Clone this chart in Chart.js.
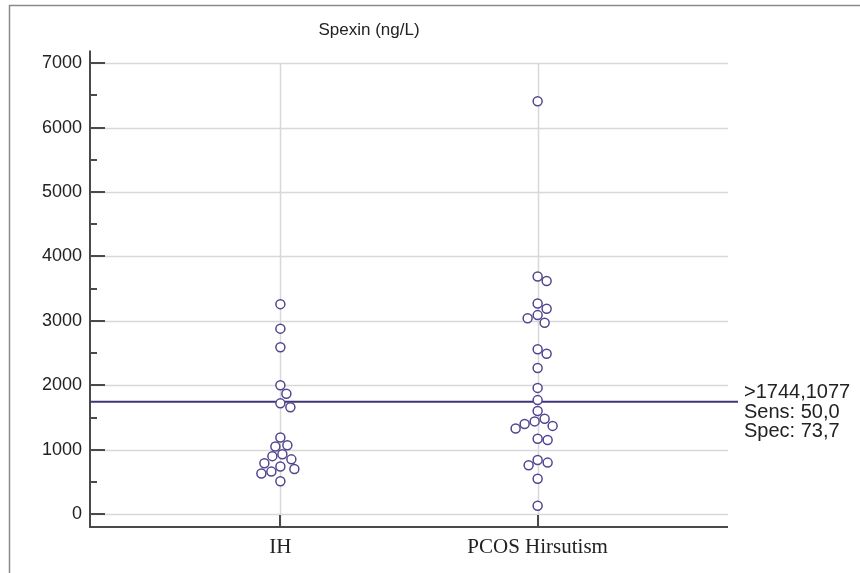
<!DOCTYPE html>
<html>
<head>
<meta charset="utf-8">
<script src="https://cdn.jsdelivr.net/npm/chart.js@4.4.1/dist/chart.umd.min.js"></script>
<style>
  html, body { margin: 0; padding: 0; background: #fff; }
</style>
</head>
<body>
<canvas id="chart" width="860" height="573"></canvas>
<script>
// данные
const categories = ["IH", "PCOS Hirsutism"];
const ihValues = [3260, 2880, 2590, 2000, 1870, 1720, 1660, 1190, 1070, 1050, 930, 900, 850, 790, 740, 700, 660, 630, 510];
const pcosValues = [6410, 3690, 3620, 3270, 3190, 3090, 3040, 2970, 2560, 2490, 2270, 1960, 1770, 1600, 1480, 1440, 1400, 1370, 1330, 1170, 1150, 840, 800, 760, 550, 130];
const cutoffValue = 1744.1077;
const cutoffLabels = [">1744,1077", "Sens: 50,0", "Spec: 73,7"];
const yTicks = [0, 1000, 2000, 3000, 4000, 5000, 6000, 7000];
const yMinorTicks = [500, 1500, 2500, 3500, 4500, 5500, 6500];

const pointColor = "#51478f";
const axisColor = "#4a4a4a";
const gridColor = "#d8d8d8";

// рамка, сетка, оси, линия отсечения
const decorPlugin = {
  id: "decor",
  beforeDraw(chart) {
    const c = chart.ctx;
    c.save();
    c.strokeStyle = "#8a8a8a";
    c.lineWidth = 1.5;
    c.beginPath();
    c.moveTo(9.5, 573);
    c.lineTo(9.5, 5.5);
    c.lineTo(860, 5.5);
    c.stroke();
    c.restore();
  },
  beforeDatasetsDraw(chart) {
    const c = chart.ctx;
    const a = chart.chartArea;
    const xs = chart.scales.x, ys = chart.scales.y;
    c.save();
    // горизонтальная сетка
    c.strokeStyle = gridColor;
    c.lineWidth = 1.5;
    yTicks.forEach((v) => {
      const y = Math.round(ys.getPixelForValue(v)) + 0.5;
      c.beginPath();
      c.moveTo(a.left, y);
      c.lineTo(a.right, y);
      c.stroke();
    });
    // вертикальные линии категорий
    const topY = ys.getPixelForValue(yTicks[yTicks.length - 1]);
    categories.forEach((_, i) => {
      const x = Math.round(xs.getPixelForValue(i + 1)) + 0.5;
      c.beginPath();
      c.moveTo(x, topY);
      c.lineTo(x, a.bottom);
      c.stroke();
    });
    // оси
    c.strokeStyle = axisColor;
    c.lineWidth = 2;
    c.beginPath();
    c.moveTo(a.left, a.top);
    c.lineTo(a.left, a.bottom);
    c.lineTo(a.right, a.bottom);
    c.stroke();
    // засечки
    yTicks.forEach((v) => {
      const y = Math.round(ys.getPixelForValue(v));
      c.beginPath();
      c.moveTo(a.left, y);
      c.lineTo(a.left + 15, y);
      c.stroke();
    });
    yMinorTicks.forEach((v) => {
      const y = Math.round(ys.getPixelForValue(v));
      c.beginPath();
      c.moveTo(a.left, y);
      c.lineTo(a.left + 7, y);
      c.stroke();
    });
    categories.forEach((_, i) => {
      const x = Math.round(xs.getPixelForValue(i + 1));
      c.beginPath();
      c.moveTo(x, a.bottom);
      c.lineTo(x, a.bottom - 12);
      c.stroke();
    });
    // линия отсечения
    const cy = ys.getPixelForValue(cutoffValue);
    c.strokeStyle = "#3d3678";
    c.lineWidth = 2;
    c.beginPath();
    c.moveTo(a.left, cy);
    c.lineTo(a.right + 10, cy);
    c.stroke();
    c.restore();
  },
  afterDraw(chart) {
    const c = chart.ctx;
    const a = chart.chartArea;
    const cy = chart.scales.y.getPixelForValue(cutoffValue);
    c.save();
    c.fillStyle = "#222";
    c.font = "20px 'Liberation Sans', Arial, sans-serif";
    c.textBaseline = "middle";
    cutoffLabels.forEach((t, i) => {
      c.fillText(t, a.right + 16, cy - 9 + i * 19.5);
    });
    c.restore();
  },
};

const ctx = document.getElementById("chart").getContext("2d");
const chart = new Chart(ctx, {
  type: "scatter",
  data: {
    datasets: [
      { data: ihValues.map((v) => ({ x: 1, y: v })) },
      { data: pcosValues.map((v) => ({ x: 2, y: v })) },
    ],
  },
  options: {
    responsive: false,
    animation: false,
    devicePixelRatio: 1,
    layout: { padding: { left: 10, right: 132, top: 0, bottom: 0 } },
    elements: {
      point: {
        radius: 4.5,
        borderWidth: 1.5,
        borderColor: pointColor,
        backgroundColor: "#fff",
        hoverRadius: 4.5,
      },
    },
    plugins: {
      legend: { display: false },
      tooltip: { enabled: false },
      title: {
        display: true,
        text: "Spexin (ng/L)",
        color: "#222",
        font: { family: "'Liberation Sans', Arial, sans-serif", size: 17, weight: "normal" },
        padding: { top: 20, bottom: 10 },
      },
    },
    scales: {
      x: {
        type: "linear",
        min: 0.26,
        max: 2.74,
        afterBuildTicks: (s) => {
          s.ticks = categories.map((_, i) => ({ value: i + 1 }));
        },
        afterFit: (s) => {
          s.height = 46;
        },
        ticks: {
          callback: (v) => categories[v - 1] || "",
          color: "#222",
          padding: 8,
          autoSkip: false,
          maxRotation: 0,
          font: { family: "'Liberation Serif', 'Times New Roman', serif", size: 21 },
        },
        grid: { display: false, drawTicks: false },
        border: { display: false },
      },
      y: {
        min: -200,
        max: 7200,
        afterBuildTicks: (s) => {
          s.ticks = yTicks.map((v) => ({ value: v }));
        },
        afterFit: (s) => {
          s.width = 80;
        },
        ticks: {
          callback: (v) => String(v),
          color: "#222",
          padding: 8,
          font: { family: "'Liberation Sans', Arial, sans-serif", size: 18 },
        },
        grid: { display: false, drawTicks: false },
        border: { display: false },
      },
    },
  },
  plugins: [decorPlugin],
});

// раскладка точек "рой" по значениям через шкалы графика
function swarm(values, cat) {
  const xs = chart.scales.x, ys = chart.scales.y;
  const unit = xs.getPixelForValue(1) - xs.getPixelForValue(0);
  const placed = [];
  const minDist = 10;
  return values.map((v) => {
    const py = ys.getPixelForValue(v);
    let off = 0;
    for (let k = 0; k < 80; k++) {
      const cand = k === 0 ? 0 : (k % 2 ? 1 : -1) * Math.ceil(k / 2);
      if (placed.every((p) => Math.hypot(p.x - cand, p.y - py) >= minDist)) {
        off = cand;
        break;
      }
    }
    placed.push({ x: off, y: py });
    return { x: cat + off / unit, y: v };
  });
}

chart.data.datasets[0].data = swarm(ihValues, 1);
chart.data.datasets[1].data = swarm(pcosValues, 2);
chart.update("none");
</script>
</body>
</html>
